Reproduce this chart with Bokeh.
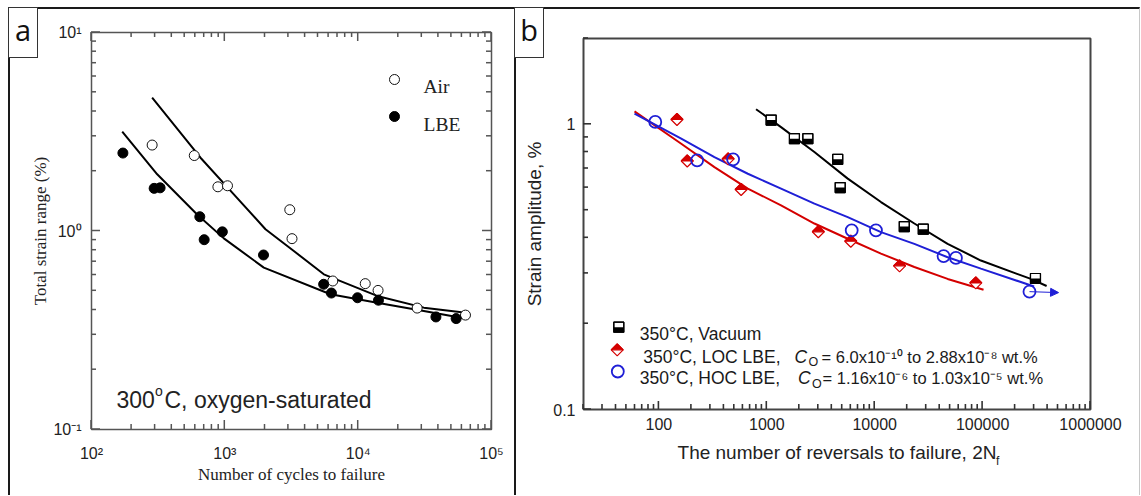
import math
from bokeh.plotting import figure
from bokeh.models import (FixedTicker, CustomJSTickFormatter, Arrow, NormalHead, Range1d, Div)
from bokeh.core.properties import value
from bokeh.embed import file_html
from bokeh.resources import INLINE

# ---------------- panel a data (300 C, oxygen-saturated) ----------------
air_cycles = [285, 590, 887, 1047, 3070, 3190, 6450, 11300, 14100, 27700, 63800]
air_strain = [2.71, 2.40, 1.67, 1.69, 1.28, 0.915, 0.56, 0.543, 0.502, 0.409, 0.377]
lbe_cycles = [172, 295, 327, 649, 700, 958, 1950, 5510, 6300, 9890, 14200, 38300, 54300]
lbe_strain = [2.47, 1.64, 1.65, 1.18, 0.904, 0.99, 0.757, 0.539, 0.487, 0.461, 0.448, 0.369, 0.362]
air_fit_cycles = [285, 657, 1168, 2018, 3292, 5528, 13880, 31080, 62000]
air_fit_strain = [4.70, 2.34, 1.53, 1.02, 0.793, 0.605, 0.471, 0.411, 0.388]
lbe_fit_cycles = [170, 311, 620, 983, 1961, 6200, 13880, 31080, 62000]
lbe_fit_strain = [3.17, 1.93, 1.21, 0.918, 0.654, 0.480, 0.435, 0.395, 0.363]
a_labels = ["Air", "LBE"]
a_ticks_x = [1e2, 1e3, 1e4, 1e5]
a_ticks_y = [0.1, 1, 10]

# ---------------- panel b data (350 C) ----------------
vac_rev = [1097, 1803, 2400, 4540, 4790, 18800, 28200, 309000]
vac_amp = [1.035, 0.891, 0.891, 0.754, 0.600, 0.438, 0.429, 0.288]
loc_rev = [147, 183, 438, 578, 3000, 6000, 17000, 86500]
loc_amp = [1.04, 0.744, 0.757, 0.591, 0.420, 0.389, 0.319, 0.278]
hoc_rev = [92.5, 226, 487, 6120, 10270, 43500, 56600, 272000]
hoc_amp = [1.02, 0.748, 0.754, 0.425, 0.425, 0.345, 0.340, 0.259]
vac_fit_rev = [795, 1355, 2760, 5623, 11430, 23300, 47400, 96400, 280000, 392000]
vac_fit_amp = [1.13, 0.978, 0.80, 0.645, 0.534, 0.449, 0.381, 0.333, 0.287, 0.271]
loc_fit_rev = [59.4, 161, 327, 667, 1355, 2760, 5623, 11430, 23300, 47400, 102000]
loc_fit_amp = [1.11, 0.855, 0.708, 0.595, 0.520, 0.449, 0.397, 0.352, 0.316, 0.287, 0.263]
hoc_fit_rev = [59.4, 161, 327, 667, 1355, 2760, 5623, 11430, 23300, 47400, 96400, 300000]
hoc_fit_amp = [1.09, 0.891, 0.768, 0.671, 0.595, 0.527, 0.473, 0.419, 0.381, 0.342, 0.312, 0.270]
runout_rev = [272000, 506000]
runout_amp = [0.259, 0.257]
b_labels = ["350\u00b0C, Vacuum", "350\u00b0C, LOC LBE,", "350\u00b0C, HOC LBE,"]
b_conc = ["= 6.0x10\u207b\u00b9\u2070 to 2.88x10\u207b\u2078 wt.%",
          "= 1.16x10\u207b\u2076 to 1.03x10\u207b\u2075 wt.%"]
b_ticks_x = [1e2, 1e3, 1e4, 1e5, 1e6]
b_ticks_y = [0.1, 1]

SANS = "Liberation Sans"
SERIF = "Liberation Serif"
RED = "#d40000"
BLUE = "#1f1fd6"


def mapper(xr, yr, fw, fh):
    lx0, lx1 = math.log10(xr[0]), math.log10(xr[1])
    ly0, ly1 = math.log10(yr[0]), math.log10(yr[1])

    def to_data(px, py):
        return 10 ** (lx0 + px / fw * (lx1 - lx0)), 10 ** (ly1 - py / fh * (ly1 - ly0))

    return to_data, fw / (lx1 - lx0), fh / (ly1 - ly0)


def decade_minors(lo, hi):
    out = []
    k = math.floor(math.log10(lo))
    while 10 ** k <= hi:
        for m in range(2, 10):
            v = m * 10 ** k
            if lo <= v <= hi:
                out.append(v)
        k += 1
    return out


def style_axis(ax, font, fsize, lstand):
    ax.axis_line_color = None
    ax.major_tick_line_color = None
    ax.minor_tick_line_color = None
    ax.major_tick_in = 0
    ax.major_tick_out = 0
    ax.minor_tick_in = 0
    ax.minor_tick_out = 0
    ax.major_label_text_font = font
    ax.major_label_text_font_size = fsize
    ax.major_label_text_color = "#222222"
    ax.major_label_standoff = lstand


def tick_svg(fl, ft, fw, fh, xr, yr, xt, yt, major, minor, sides, color, lw):
    """Inward tick marks at the tick values, mapped with the same log mapping as the frame."""
    lx0, lx1 = math.log10(xr[0]), math.log10(xr[1])
    ly0, ly1 = math.log10(yr[0]), math.log10(yr[1])
    ppx, ppy = fw / (lx1 - lx0), fh / (ly1 - ly0)
    segs = []
    for vals, L in ((xt, major), (decade_minors(*xr), minor)):
        for v in vals:
            X = fl + (math.log10(v) - lx0) * ppx
            if "bottom" in sides:
                segs.append((X, ft + fh, X, ft + fh - L))
            if "top" in sides:
                segs.append((X, ft, X, ft + L))
    for vals, L in ((yt, major), (decade_minors(*yr), minor)):
        for v in vals:
            Y = ft + (ly1 - math.log10(v)) * ppy
            if "left" in sides:
                segs.append((fl, Y, fl + L, Y))
            if "right" in sides:
                segs.append((fl + fw, Y, fl + fw - L, Y))
    return "".join(
        f'<line x1="{a:.1f}" y1="{b:.1f}" x2="{c:.1f}" y2="{d:.1f}" stroke="{color}" stroke-width="{lw}"/>'
        for a, b, c, d in segs)


# ======================= panel a =======================
A_XR, A_YR = (1e2, 1e5), (0.1, 10)
A_FW, A_FH = 400, 397
A_LEFT, A_TOP = 91, 32
pa = figure(frame_width=A_FW, frame_height=A_FH, x_axis_type="log", y_axis_type="log",
            x_range=Range1d(*A_XR), y_range=Range1d(*A_YR),
            output_backend="svg", toolbar_location=None,
            min_border_left=A_LEFT, min_border_right=25, min_border_top=A_TOP, min_border_bottom=66)
pa.grid.visible = False
pa.outline_line_color = "#555555"
pa.outline_line_width = 1.5
pa.border_fill_color = None

sup_fmt = CustomJSTickFormatter(code="""
const s = {"-": "\\u207b", "0": "\\u2070", "1": "\\u00b9", "2": "\\u00b2", "3": "\\u00b3",
           "4": "\\u2074", "5": "\\u2075"};
const e = Math.round(Math.log10(tick));
return "10" + String(e).split("").map((c) => s[c]).join("");
""")
pa.xaxis.ticker = FixedTicker(ticks=a_ticks_x, minor_ticks=[])
pa.yaxis.ticker = FixedTicker(ticks=a_ticks_y, minor_ticks=[])
pa.xaxis.formatter = sup_fmt
pa.yaxis.formatter = sup_fmt
style_axis(pa.xaxis[0], SANS, "16px", 15)
style_axis(pa.yaxis[0], SANS, "16px", 10)
pa.xaxis.axis_label = "Number of cycles to failure"
pa.yaxis.axis_label = "Total strain range (%)"
for ax in (pa.xaxis[0], pa.yaxis[0]):
    ax.axis_label_text_font = SERIF
    ax.axis_label_text_font_size = "17px"
    ax.axis_label_text_font_style = "normal"
    ax.axis_label_text_color = "#222222"
pa.xaxis.axis_label_standoff = 0
pa.yaxis.axis_label_standoff = 0

to_a, ppx_a, ppy_a = mapper(A_XR, A_YR, A_FW, A_FH)

pa.line(air_fit_cycles, air_fit_strain, line_color="black", line_width=2)
pa.line(lbe_fit_cycles, lbe_fit_strain, line_color="black", line_width=2)
pa.scatter(air_cycles, air_strain, marker="circle", size=10, fill_color="white",
           line_color="#111111", line_width=1)
pa.scatter(lbe_cycles, lbe_strain, marker="circle", size=10, fill_color="black",
           line_color="black", line_width=1)

lx, ly1 = to_a(303, 47)
_, ly2 = to_a(303, 84)
pa.scatter([lx], [ly1], marker="circle", size=10, fill_color="white", line_color="#111111", line_width=1)
pa.scatter([lx], [ly2], marker="circle", size=10, fill_color="black", line_color="black")
tx, ty1 = to_a(332, 54)
_, ty2 = to_a(332, 92)
pa.text([tx, tx], [ty1, ty2], text=a_labels, text_font=value(SERIF), text_font_size="19.5px",
        text_baseline="alphabetic", text_align="left", text_color="#222222")

x1, yb = to_a(25, 367.3)
x2, ys = to_a(63.5, 358.7)
x3, _ = to_a(73, 0)
pa.text([x1], [yb], text=["300"], text_font=value(SANS), text_font_size="23px",
        text_baseline="alphabetic", text_color="#222222")
pa.text([x2], [ys], text=["o"], text_font=value(SANS), text_font_size="14px",
        text_baseline="alphabetic", text_color="#222222")
pa.text([x3], [yb], text=["C, oxygen-saturated"], text_font=value(SANS), text_font_size="23px",
        text_baseline="alphabetic", text_color="#222222")

# ======================= panel b =======================
B_XR, B_YR = (20, 1e6), (0.1, 2)
B_FW, B_FH = 507, 371
B_X0, B_LEFT, B_TOP = 516, 67, 38
pb = figure(frame_width=B_FW, frame_height=B_FH, x_axis_type="log", y_axis_type="log",
            x_range=Range1d(*B_XR), y_range=Range1d(*B_YR),
            output_backend="svg", toolbar_location=None,
            min_border_left=B_LEFT, min_border_right=50, min_border_top=B_TOP, min_border_bottom=86,
            styles={"position": "absolute", "left": f"{B_X0}px", "top": "0px"})
pb.grid.visible = False
pb.outline_line_color = "#444444"
pb.outline_line_width = 2
pb.border_fill_color = None

plain_fmt = CustomJSTickFormatter(code="return String(tick);")
pb.xaxis.ticker = FixedTicker(ticks=b_ticks_x, minor_ticks=[])
pb.yaxis.ticker = FixedTicker(ticks=b_ticks_y, minor_ticks=[])
pb.xaxis.formatter = plain_fmt
pb.yaxis.formatter = plain_fmt
style_axis(pb.xaxis[0], SANS, "16px", 8)
style_axis(pb.yaxis[0], SANS, "16px", 8)
pb.xaxis.axis_label = "The number of reversals to failure, 2N"
pb.yaxis.axis_label = "Strain amplitude, %"
for ax in (pb.xaxis[0], pb.yaxis[0]):
    ax.axis_label_text_font = SANS
    ax.axis_label_text_font_size = "19px"
    ax.axis_label_text_font_style = "normal"
    ax.axis_label_text_color = "#222222"
pb.xaxis.axis_label_standoff = 9
pb.yaxis.axis_label_standoff = 5

to_b, ppx_b, ppy_b = mapper(B_XR, B_YR, B_FW, B_FH)


def half_square(p, xs, ys, size):
    h = size / 2.0
    fx, fy = 10 ** (h / ppx_b), 10 ** (h / ppy_b)
    p.scatter(xs, ys, marker="square", size=size, fill_color="white", line_color="black", line_width=1.2)
    p.quad(left=[x / fx for x in xs], right=[x * fx for x in xs], top=list(ys),
           bottom=[y / fy for y in ys], fill_color="black", line_color=None)
    p.scatter(xs, ys, marker="square", size=size, fill_color=None, line_color="black", line_width=1.2)


def half_diamond(p, xs, ys, size):
    h = size / 2.0
    fx, fy = 10 ** (h / ppx_b), 10 ** (h / ppy_b)
    p.patches([[x / fx, x, x * fx, x] for x in xs], [[y, y * fy, y, y / fy] for y in ys],
              fill_color="white", line_color=RED, line_width=1.2)
    p.patches([[x / fx, x, x * fx] for x in xs], [[y, y * fy, y] for y in ys],
              fill_color=RED, line_color=RED, line_width=1.2)


pb.line(vac_fit_rev, vac_fit_amp, line_color="black", line_width=2)
pb.line(loc_fit_rev, loc_fit_amp, line_color=RED, line_width=2)
pb.line(hoc_fit_rev, hoc_fit_amp, line_color=BLUE, line_width=2)
pb.add_layout(Arrow(end=NormalHead(size=8, fill_color=BLUE, line_color=BLUE),
                    x_start=runout_rev[0], y_start=runout_amp[0], x_end=runout_rev[1], y_end=runout_amp[1],
                    line_color=BLUE, line_width=1))
half_square(pb, vac_rev, vac_amp, 10)
half_diamond(pb, loc_rev, loc_amp, 12)
pb.scatter(hoc_rev, hoc_amp, marker="circle", size=12, fill_color=None, line_color=BLUE, line_width=1.8)

# legend (positions in frame pixels)
m1 = to_b(35.3, 288.7)
m2 = to_b(33.7, 311.3)
m3 = to_b(34.3, 333)
half_square(pb, [m1[0]], [m1[1]], 10)
half_diamond(pb, [m2[0]], [m2[1]], 12)
pb.scatter([m3[0]], [m3[1]], marker="circle", size=12, fill_color=None, line_color=BLUE, line_width=1.8)


def btext(px, py, s, size="17.5px", style="normal"):
    x, y = to_b(px, py)
    pb.text([x], [y], text=[s], text_font=value(SANS), text_font_size=size, text_font_style=style,
            text_baseline="alphabetic", text_align="left", text_color="#1a1a1a")


btext(56.3, 295.3, b_labels[0])
btext(59.7, 318, b_labels[1])
btext(211, 318, "C", style="italic")
btext(225, 323.7, "O", size="12.5px")
btext(238, 318, b_conc[0], size="16.5px")
btext(56.3, 339.3, b_labels[2])
btext(214.5, 339.3, "C", style="italic")
btext(228.5, 345.3, "O", size="12.5px")
btext(239, 339.3, b_conc[1], size="16.5px")

# ---------------- tick marks, panel frames, tags and the subscript of 2N_f (page overlay) ----------------
ticks = (tick_svg(A_LEFT, A_TOP, A_FW, A_FH, A_XR, A_YR, a_ticks_x, a_ticks_y, 9, 5,
                  ("bottom", "top", "left", "right"), "#555555", 1.5)
         + tick_svg(B_X0 + B_LEFT, B_TOP, B_FW, B_FH, B_XR, B_YR, b_ticks_x, b_ticks_y, 8, 5,
                    ("bottom", "left"), "#333333", 1.6))
tick_html = f'<svg width="1140" height="495" style="display:block">{ticks}</svg>'
ticks_css = {"position": "absolute", "left": "0px", "top": "0px", "width": "1140px", "height": "495px",
             "pointer-events": "none", "z-index": "4"}

frame_css = {"position": "absolute", "left": "8px", "top": "7px", "width": "1132px", "height": "488px",
             "border-top": "2px solid #1a1a1a", "border-left": "2px solid #1a1a1a",
             "border-right": "1px solid #c8c8c8", "box-sizing": "border-box", "pointer-events": "none",
             "z-index": "5"}
divider_css = {"position": "absolute", "left": "514px", "top": "7px", "width": "2px", "height": "488px",
               "background": "#1a1a1a", "pointer-events": "none", "z-index": "5"}


def tag_css(left):
    return {"position": "absolute", "left": left, "top": "7px", "width": "30px", "height": "51px",
            "border": "1.5px solid #333333", "box-sizing": "border-box", "background": "white",
            "font-family": "Open Sans", "font-size": "29px", "line-height": "44px", "text-align": "center",
            "color": "#111111", "z-index": "6"}


sub_css = {"position": "absolute", "left": "996px", "top": "455px", "font-family": SANS,
           "font-size": "12px", "line-height": "12px", "color": "#222222", "z-index": "6"}

div_ticks = Div(text=tick_html, styles=ticks_css, margin=0)
div_frame = Div(text="", styles=frame_css, margin=0)
div_divider = Div(text="", styles=divider_css, margin=0)
div_a = Div(text="a", styles=tag_css("8px"), margin=0)
div_b = Div(text="b", styles=tag_css("514px"), margin=0)
div_f = Div(text="f", styles=sub_css, margin=0)

roots = [pa, pb, div_ticks, div_frame, div_divider, div_a, div_b, div_f]
open("out.html", "w").write(file_html(roots, INLINE))
